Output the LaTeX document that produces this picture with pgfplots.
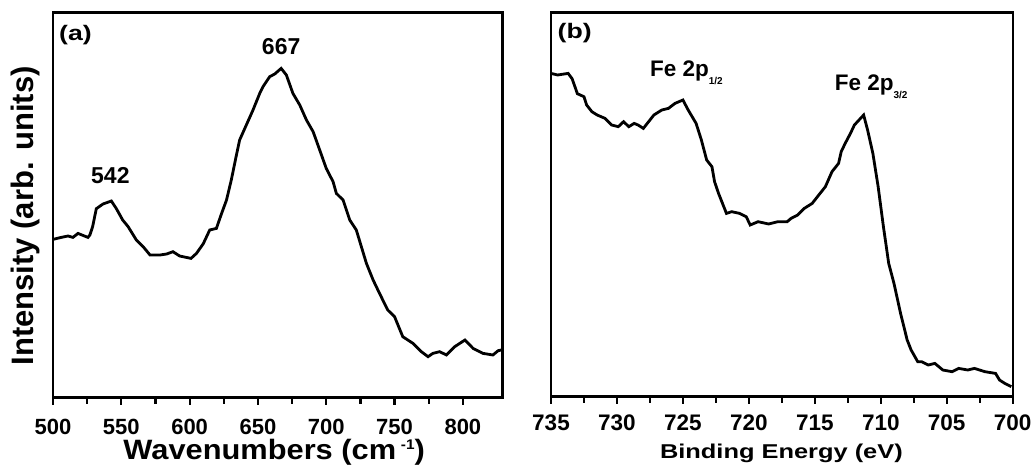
\documentclass[border=0pt]{standalone}
\usepackage{fontspec}
\setmainfont{Liberation Sans}
\newfontfamily\wideA[FakeStretch=1.27]{Liberation Sans}
\newfontfamily\wideB[FakeStretch=1.1]{Liberation Sans}
\usepackage{pgfplots}
\pgfplotsset{compat=1.18}
\begin{document}
\begin{tikzpicture}
\path[use as bounding box] (0pt,0pt) rectangle (1035pt,468pt);
\pgfplotsset{
  every axis/.append style={
    scale only axis,
    axis line style={line width=2.4pt},
    every tick/.style={black,line width=2.2pt},
    tick align=outside,
    xtick pos=bottom,
    ytick=\empty,
    major tick length=7pt,
    minor tick length=6pt,
    minor x tick num=1,
    /pgf/number format/assume math mode=true,
    /pgf/number format/1000 sep={},
    clip=true,
  }
}
% Panel (a)
\begin{axis}[
  at={(53pt,70.3pt)}, anchor=south west,
  width=449.5pt, height=385pt,
  xmin=500, xmax=829, ymin=0, ymax=385,
  xtick={500,550,...,800},
  xticklabel style={font=\bfseries\fontsize{22}{22}\selectfont, anchor=center, inner sep=0pt, yshift=-22pt},
  xlabel={Wavenumbers (cm\,\raisebox{0.36em}{\fontsize{14}{14}\selectfont -1})},
  xlabel style={font=\wideB\bfseries\fontsize{28}{28}\selectfont, inner sep=0pt, at={(axis description cs:0.492,0)}, anchor=center, yshift=-55pt},
  ylabel={Intensity (arb. units)},
  ylabel style={font=\bfseries\fontsize{31}{31}\selectfont, at={(axis description cs:0,0.472)}, anchor=center, yshift=28pt},
]
\addplot[black, line width=2.8pt] coordinates {
(500,158.3) (506,160.3) (511,161.7) (514.6,160.3) (518.3,164.3) (521.9,162.3) (525.6,160.3) (527,162.7)
(529,171) (531.7,189) (536.6,193.7) (542.7,196.7) (546.4,189) (551,177.7) (555,171) (561,157.7)
(566,151) (571,142.7) (578.3,142.7) (583.2,143.7) (587.8,146) (592.7,141.7) (601,139.3) (605,144.3)
(610,154) (614.7,167.7) (619.6,169.3) (623,182.7) (627,197.7) (630.5,217.7) (634,241) (636.6,257.7)
(641.5,272.7) (646.4,287.7) (651.3,304.3) (653.7,311) (658.6,321) (662.3,323.7) (667,329.3) (670.8,322.7)
(675.6,304.3) (680.6,292.7) (685.5,277.7) (690.4,266) (695.2,247.7) (700,229.3) (705,216) (707.4,204.3)
(712.3,197.7) (717.2,177.7) (722,167.7) (725.7,151) (729.4,134.3) (734.3,117.7) (739,104.3) (745,87.7)
(750,81) (756,61) (763.5,54.3) (769.6,46) (774.5,41) (778,44.3) (783,46) (788,42.7) (794,51)
(801.5,57.7) (807.5,49.3) (814.8,44.3) (822,42.7) (825.8,47) (829,48)
};
\node[font=\wideA\bfseries\fontsize{21}{21}\selectfont] at (axis cs:516.5,362.7) {(a)};
\node[font=\bfseries\fontsize{23}{23}\selectfont] at (axis cs:542,221.7) {542};
\node[font=\bfseries\fontsize{23}{23}\selectfont] at (axis cs:667,351) {667};
\end{axis}
% Panel (b)
\begin{axis}[
  at={(551pt,71.3pt)}, anchor=south west,
  width=461.7pt, height=384pt,
  x dir=reverse,
  xmin=700, xmax=735, ymin=0, ymax=384,
  xtick={700,705,...,735},
  xticklabel style={font=\bfseries\fontsize{22.5}{22.5}\selectfont, anchor=center, yshift=-19pt},
  xlabel={Binding Energy (eV)},
  xlabel style={font=\wideA\bfseries\fontsize{20}{20}\selectfont, at={(axis description cs:0.499,0)}, anchor=center, yshift=-57pt},
]
\addplot[black, line width=2.8pt] coordinates {
(735,323.3) (734.5,321.7) (733.7,323.3) (733.4,318) (733,303) (732.5,300) (732.3,291.7) (731.9,285)
(731.5,281.7) (730.9,278.3) (730.4,271.7) (729.9,270) (729.5,275) (729.1,270) (728.7,273.3) (728.4,271.7)
(728,268.3) (727.6,275) (727.2,281.7) (726.6,286.7) (726.1,288.3) (725.6,293.3) (725,296.7) (724.6,286.7)
(724,273.3) (723.6,256.7) (723.2,236.7) (722.8,230) (722.6,215) (722.3,203.3) (721.9,190) (721.7,183.3)
(721.3,185) (720.7,183.3) (720.2,180) (719.9,171.7) (719.3,175) (718.5,172.7) (717.8,175) (717.1,175)
(716.8,178.3) (716.3,181.7) (715.8,188.3) (715.2,193.3) (714.7,201.7) (714.2,210) (713.7,225) (713.2,233.3)
(713,245) (712.7,253.3) (712.3,263.3) (712,271.7) (711.3,281.7) (711,266.7) (710.6,243.3) (710.2,210)
(709.8,170) (709.4,133.3) (709,113.3) (708.5,83.3) (708,56.7) (707.7,46.7) (707.2,35) (706.9,35)
(706.4,31.7) (705.9,33.3) (705.3,26.7) (704.6,25) (704.1,28.3) (703.4,26.7) (702.9,28.3) (702.1,25)
(701.3,23.3) (701,16.7) (700.6,13.3) (700.1,10)
};
\node[font=\wideA\bfseries\fontsize{21}{21}\selectfont] at (axis cs:733.2,363.7) {(b)};
\node[font=\bfseries\fontsize{22.5}{22.5}\selectfont, anchor=base west, inner sep=0pt] at (axis cs:727.5,320) {Fe 2p\raisebox{-0.35em}{\fontsize{10}{10}\selectfont 1/2}};
\node[font=\bfseries\fontsize{22.5}{22.5}\selectfont, anchor=base west, inner sep=0pt] at (axis cs:713.5,306) {Fe 2p\raisebox{-0.35em}{\fontsize{10}{10}\selectfont 3/2}};
\end{axis}
\end{tikzpicture}
\end{document}
